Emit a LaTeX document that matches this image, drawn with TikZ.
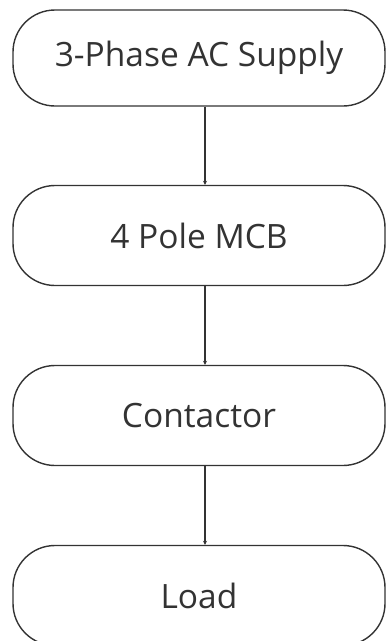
\documentclass[tikz,border=0pt]{standalone}
\usepackage{fontspec}
\setmainfont{Open Sans}
\usepackage{tikz}
\usetikzlibrary{arrows.meta}
\usetikzlibrary{positioning}
\definecolor{inkgray}{HTML}{333333}

\begin{document}
\begin{tikzpicture}[x=1pt,y=1pt,
        stage/.style={draw=inkgray,line width=1.4pt,rounded corners=42pt,
            minimum width=372pt,minimum height=100pt,text=inkgray,
            font=\fontsize{33.5}{40}\selectfont},
        feed/.style={draw=inkgray,line width=1.3pt,-{Stealth[length=4pt,width=4pt]}}]
        %Frame
            \useasboundingbox (0,0) rectangle (388,-641);
        %Stages
            \node[stage,minimum height=96pt] (supply) at (199,-58) {3-Phase AC Supply};
            \node[stage] (mcb) at (199,-235.5) {4 Pole MCB};
            \node[stage] (contactor) at (199,-415.5) {Contactor};
            \node[stage] (load) at (199,-595.5) {Load};
        %Feeds
            \draw[feed] ([xshift=6pt]supply.south) -- ([xshift=6pt]mcb.north);
            \draw[feed] ([xshift=6pt]mcb.south) -- ([xshift=6pt]contactor.north);
            \draw[feed] ([xshift=6pt]contactor.south) -- ([xshift=6pt]load.north);
\end{tikzpicture}
\end{document}
